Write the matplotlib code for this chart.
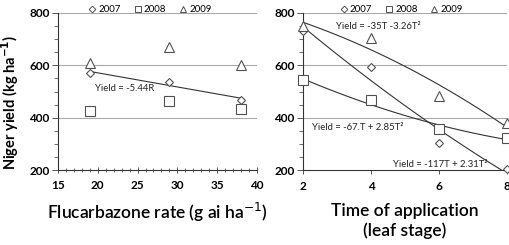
import numpy as np
import matplotlib
matplotlib.use("Agg")
import matplotlib.pyplot as plt
from matplotlib.lines import Line2D
from matplotlib.ticker import MultipleLocator

plt.rcParams["font.family"] = ["Lato", "DejaVu Sans"]

YEARS = ["2007", "2008", "2009"]
MARKERS = ["D", "s", "^"]
MSIZES = [4.5, 6.5, 6.5]

# left panel: flucarbazone rate (g ai/ha)
RATE = [19, 29, 38]
RATE_YIELD = {
    "2007": [570, 537, 467],
    "2008": [425, 465, 432],
    "2009": [608, 670, 602],
}
RATE_TICKS = [15, 20, 25, 30, 35, 40]

# right panel: time of application (leaf stage)
STAGE = [2, 4, 6, 8]
STAGE_YIELD = {
    "2007": [730, 595, 302, 205],
    "2008": [543, 467, 355, 322],
    "2009": [750, 703, 482, 378],
}
STAGE_TICKS = [2, 4, 6, 8]

YIELD_TICKS = [200, 400, 600, 800]

EDGE = "#505050"
GRID = "#a8a8a8"
EQ_SIZE = 6.8


def style(ax, xticks):
    ax.set_ylim(200, 800)
    ax.set_yticks(YIELD_TICKS, [str(v) for v in YIELD_TICKS],
                  fontweight="bold", fontsize=8.5)
    ax.set_xticks(xticks, [str(v) for v in xticks],
                  fontweight="bold", fontsize=8.5)
    ax.yaxis.set_minor_locator(MultipleLocator(50))
    for sp in ("top", "right"):
        ax.spines[sp].set_visible(False)
    for sp in ("left", "bottom"):
        ax.spines[sp].set_color("#333333")
        ax.spines[sp].set_linewidth(0.8)
    for v in (400, 600, 800):
        ax.axhline(v, color=GRID, lw=0.8, zorder=0)
    ax.tick_params(axis="y", which="major", length=4, width=0.7, color="#555555",
                   pad=2)
    ax.tick_params(axis="y", which="minor", length=3, width=0.6, color="#555555")
    ax.tick_params(axis="x", which="major", pad=5, color="#555555")


def points(ax, xs, data):
    for yr, m, ms in zip(YEARS, MARKERS, MSIZES):
        ax.plot(xs, data[yr], ls="none", marker=m, ms=ms, mfc="white",
                mec=EDGE, mew=0.8, clip_on=False, zorder=3)


def legend(ax, x):
    handles = [Line2D([], [], ls="none", marker=m, ms=ms * 0.75, mfc="white",
                      mec=EDGE, mew=0.7) for m, ms in zip(MARKERS, MSIZES)]
    ax.legend(handles, YEARS, loc="lower center", bbox_to_anchor=(x, 0.985),
              ncol=3, frameon=False, fontsize=7, handletextpad=0.15,
              columnspacing=1.2, handlelength=1.0, borderaxespad=0.0,
              borderpad=0.1)


fig = plt.figure(figsize=(5.1, 2.45), dpi=100)
ax1 = fig.add_axes([0.1137, 0.306, 0.390, 0.641])
ax2 = fig.add_axes([0.594, 0.306, 0.400, 0.641])

# left panel
points(ax1, RATE, RATE_YIELD)
c = np.polyfit(RATE, RATE_YIELD["2007"], 1)
xr = np.array([RATE[0], RATE[-1]])
ax1.plot(xr, np.polyval(c, xr), color="#333333", lw=0.8, zorder=2)
ax1.set_xlim(15, 40)
style(ax1, RATE_TICKS)
ax1.xaxis.set_minor_locator(MultipleLocator(1))
ax1.tick_params(axis="x", which="major", direction="inout", length=4, width=0.7)
ax1.tick_params(axis="x", which="minor", direction="inout", length=3, width=0.6,
                color="#555555")
ax1.text(19.6, 510, "Yield = -5.44R", fontsize=EQ_SIZE, va="center", color="#222222")
ax1.set_ylabel("Niger yield (kg ha$^{\\mathbf{-1}}$)", fontsize=10.5,
               fontweight="bold")
ax1.yaxis.set_label_coords(-0.185, 0.43)
ax1.set_xlabel("Flucarbazone rate (g ai ha$^{-1}$)", fontsize=12.5,
               fontweight="semibold", labelpad=7)
legend(ax1, 0.46)

# right panel
points(ax2, STAGE, STAGE_YIELD)
xs = np.linspace(STAGE[0], STAGE[-1], 100)
for yr in YEARS:
    c = np.polyfit(STAGE, STAGE_YIELD[yr], 2)
    ax2.plot(xs, np.polyval(c, xs), color="#333333", lw=0.8, zorder=2)
ax2.set_xlim(2, 8)
style(ax2, STAGE_TICKS)
ax2.tick_params(axis="x", which="major", direction="out", length=3, width=0.7)
ax2.text(2.97, 750, "Yield = -35T -3.26T²", fontsize=EQ_SIZE, va="center", color="#222222")
ax2.text(2.28, 364, "Yield = -67.T + 2.85T²", fontsize=EQ_SIZE, va="center", color="#222222")
ax2.text(4.65, 223, "Yield = -117T + 2.31T²", fontsize=EQ_SIZE, va="center", color="#222222")
ax2.set_xlabel("Time of application\n(leaf stage)", fontsize=12.5,
               fontweight="semibold", labelpad=8, linespacing=1.25)
legend(ax2, 0.48)

fig.savefig("out.png", dpi=100)
